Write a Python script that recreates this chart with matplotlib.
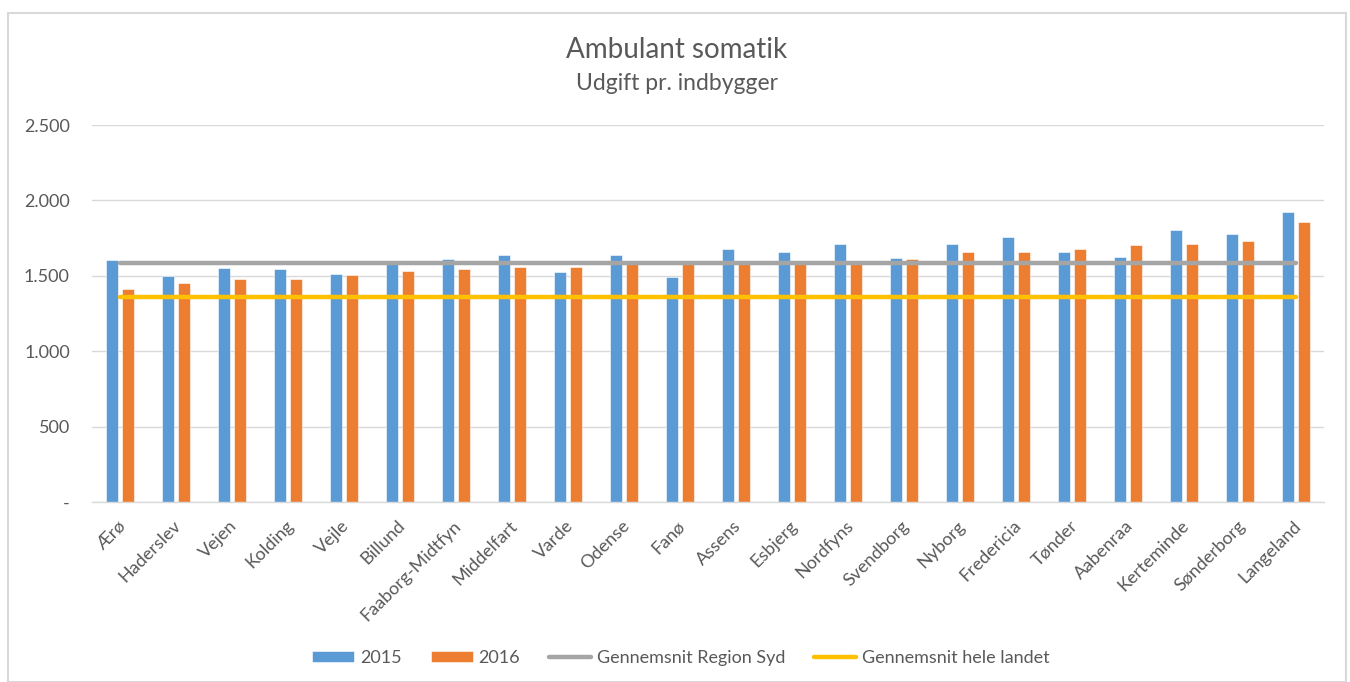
import matplotlib
matplotlib.use("Agg")
import matplotlib.pyplot as plt
import matplotlib.transforms as mtransforms
import numpy as np
from matplotlib.patches import Rectangle
from matplotlib.ticker import FuncFormatter

categories = ["Ærø", "Haderslev", "Vejen", "Kolding", "Vejle", "Billund",
              "Faaborg-Midtfyn", "Middelfart", "Varde", "Odense", "Fanø",
              "Assens", "Esbjerg", "Nordfyns", "Svendborg", "Nyborg",
              "Fredericia", "Tønder", "Aabenraa", "Kerteminde", "Sønderborg",
              "Langeland"]
values_2015 = [1605, 1496, 1551, 1544, 1515, 1580, 1613, 1641, 1524, 1641, 1489,
               1681, 1655, 1710, 1619, 1710, 1759, 1655, 1626, 1805, 1778, 1922]
values_2016 = [1414, 1453, 1476, 1482, 1502, 1531, 1544, 1558, 1558, 1578, 1576,
               1580, 1580, 1580, 1613, 1655, 1661, 1675, 1703, 1710, 1732, 1856]
avg_region_syd = 1586
avg_hele_landet = 1360
y_ticks = [0, 500, 1000, 1500, 2000, 2500]

title = "Ambulant somatik"
subtitle = "Udgift pr. indbygger"
legend_labels = ["2015", "2016", "Gennemsnit Region Syd", "Gennemsnit hele landet"]

BLUE = "#5B9BD5"
ORANGE = "#ED7D31"
GRAY = "#A5A5A5"
YELLOW = "#FFC000"
TEXT = "#595959"
GRID = "#D9D9D9"

plt.rcParams['font.family'] = ['Lato', 'DejaVu Sans']

W, H = 1350, 682
fig = plt.figure(figsize=(W / 100, H / 100), dpi=100)
fig.patch.set_facecolor("white")

# chart border
fig.add_artist(Rectangle((8 / W, 0), (1346 - 8) / W, (H - 13) / H,
                         transform=fig.transFigure, fill=False,
                         edgecolor="#D9D9D9", linewidth=1.5))

left, right, top, bottom = 92, 1324, 125, 502
ax = fig.add_axes([left / W, (H - bottom) / H, (right - left) / W, (bottom - top) / H])

x = np.arange(len(categories))
bw = 0.215
off = 0.142
ax.bar(x - off, values_2015, width=bw, color=BLUE, edgecolor="white", linewidth=0.4,
       label=legend_labels[0], zorder=2)
ax.bar(x + off, values_2016, width=bw, color=ORANGE, edgecolor="white", linewidth=0.4,
       label=legend_labels[1], zorder=2)
ax.plot(x, [avg_region_syd] * len(x), color=GRAY, linewidth=3.2, solid_capstyle='round',
        label=legend_labels[2], zorder=3)
ax.plot(x, [avg_hele_landet] * len(x), color=YELLOW, linewidth=3.2, solid_capstyle='round',
        label=legend_labels[3], zorder=3)

ax.set_xlim(-0.5, len(categories) - 0.5)
ax.set_ylim(0, 2500)
ax.set_yticks(y_ticks)
ax.yaxis.set_major_formatter(FuncFormatter(
    lambda v, p: "-" if v == 0 else f"{int(v):,}".replace(",", ".")))
ax.grid(axis="y", color=GRID, linewidth=1, zorder=0)
ax.set_axisbelow(True)
for s in ["top", "right", "left"]:
    ax.spines[s].set_visible(False)
ax.spines["bottom"].set_color(GRID)
ax.spines["bottom"].set_linewidth(1)
ax.tick_params(axis="y", length=0, pad=16, labelsize=13, labelcolor=TEXT)
ax.tick_params(axis="x", length=0, pad=9, labelsize=13, labelcolor=TEXT)
ax.set_xticks(x)
ax.set_xticklabels(categories, rotation=45, ha="right", va="top", rotation_mode="anchor")
shift = mtransforms.ScaledTranslation(-3 / 100, -3 / 100, fig.dpi_scale_trans)
for lbl in ax.get_xticklabels():
    lbl.set_transform(lbl.get_transform() + shift)

fig.text(0.5 + 2 / W, (H - 50) / H, title, ha="center", va="center", fontsize=20, color=TEXT)
fig.text(0.5 + 2 / W, (H - 83) / H, subtitle, ha="center", va="center", fontsize=16.5, color=TEXT)

handles, labels = ax.get_legend_handles_labels()
h_sorted = [handles[2], handles[3], handles[0], handles[1]]
l_sorted = [labels[2], labels[3], labels[0], labels[1]]
leg = fig.legend(h_sorted, l_sorted, loc="center", bbox_to_anchor=(681 / W, (H - 658) / H),
                 ncol=4, frameon=False, fontsize=13, handlelength=2.33, handleheight=0.6,
                 handletextpad=0.33, columnspacing=1.6, labelcolor=TEXT)

fig.savefig("out.png", dpi=100, facecolor="white")
